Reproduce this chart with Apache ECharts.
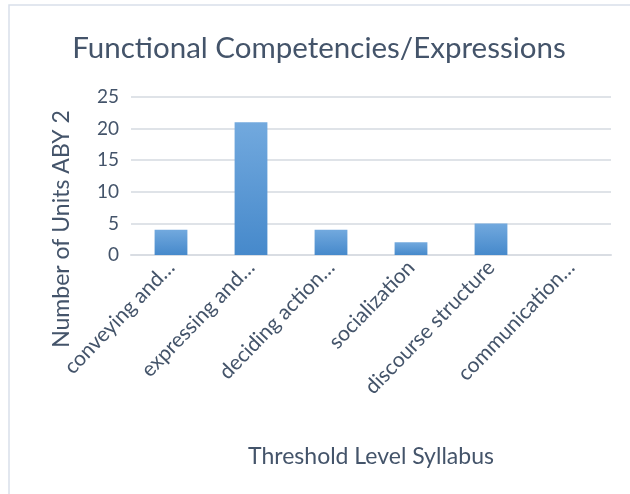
<!DOCTYPE html>
<html><head><meta charset="utf-8">
<script src="https://cdn.jsdelivr.net/npm/echarts@6/dist/echarts.min.js"></script>
<style>html,body{margin:0;padding:0;background:#fff}#c{width:630px;height:494px}</style>
</head><body><div id="c"></div>
<script>
const categories = ["conveying and…", "expressing and…", "deciding action…", "socialization", "discourse structure", "communication…"];
const values = [4, 21, 4, 2, 5, 0];
const yTicks = [0, 5, 10, 15, 20, 25];
const titleText = "Functional Competencies/Expressions";
const yName = "Number of Units ABY 2";
const xName = "Threshold Level Syllabus";

const chart = echarts.init(document.getElementById('c'));
const font = "Lato, 'Open Sans', sans-serif";
chart.setOption({
  animation: false,
  graphic: [
    {type:'rect', shape:{x:9,y:5,width:640,height:520}, style:{fill:'none', stroke:'#d9e0ea', lineWidth:1.5}, silent:true},
    {type:'text', x:62, y:229, rotation:Math.PI/2, silent:true,
      style:{text:yName, fontFamily:font, fontSize:23, fill:'#44546a', align:'center', verticalAlign:'middle'}}
  ],
  title: {text: titleText, left: 314, top: 28, textAlign:'center',
    textStyle:{fontFamily:font, fontWeight:'normal', fontSize:29.5, color:'#44546a'}},
  grid: {left:131, right:19, top:97, bottom:239, outerBoundsMode:'none'},
  xAxis: {type:'category', data: categories,
    axisLine:{lineStyle:{color:'#d9dde3', width:2}}, axisTick:{show:false},
    axisLabel:{rotate:46, interval:0, fontFamily:font, fontSize:21, color:'#44546a', margin:9, overflow:'none', hideOverlap:false},
    name: xName, nameLocation:'middle', nameGap:190,
    nameTextStyle:{fontFamily:font, fontSize:23, color:'#44546a'}},
  yAxis: {type:'value', min:yTicks[0], max:yTicks[yTicks.length-1], interval:5,
    axisLine:{show:false}, axisTick:{show:false},
    splitLine:{lineStyle:{color:'#dfe3e8', width:2}},
    axisLabel:{fontFamily:font, fontSize:19, color:'#44546a', margin:12}},
  series: [{type:'bar', data: values, barWidth:'41%',
    itemStyle:{color:new echarts.graphic.LinearGradient(0,0,0,1,[{offset:0,color:'#72a9de'},{offset:1,color:'#4689cb'}])}}]
});
</script></body></html>
